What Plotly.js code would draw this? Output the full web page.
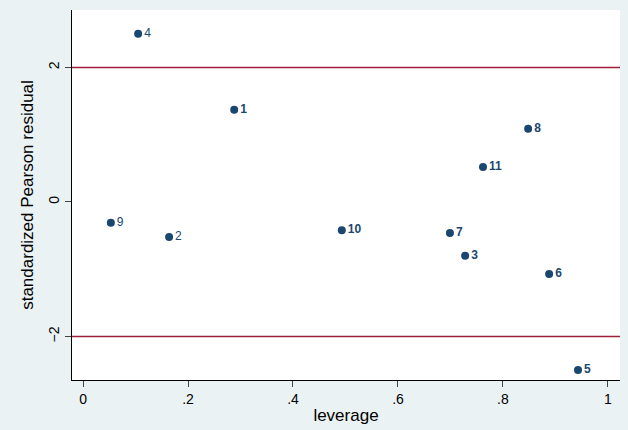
<!DOCTYPE html>
<html>
<head>
<meta charset="utf-8">
<script src="https://cdn.plot.ly/plotly-3.0.1.min.js"></script>
<style>body{margin:0;padding:0;}#chart{width:628px;height:430px;}</style>
</head>
<body>
<div id="chart"></div>
<script>
// observations: leverage vs standardized Pearson residual
var obsLabels = ['1', '2', '3', '4', '5', '6', '7', '8', '9', '10', '11'];
var leverage = [0.288, 0.164, 0.728, 0.105, 0.943, 0.888, 0.699, 0.848, 0.053, 0.493, 0.762];
var residual = [1.37, -0.52, -0.80, 2.50, -2.50, -1.07, -0.46, 1.09, -0.31, -0.42, 0.52];
var boldLabel = [true, false, true, false, true, true, true, true, false, true, true];
var refLines = [2, -2];
var xTicks = [0, 0.2, 0.4, 0.6, 0.8, 1];
var xTickText = ['0', '.2', '.4', '.6', '.8', '1'];
var yTicks = [-2, 0, 2];

var navy = '#1a476f';
var text = obsLabels.map(function(l, i) { return boldLabel[i] ? '<b>' + l + '</b>' : l; });

var trace = {
    x: leverage,
    y: residual,
    mode: 'markers+text',
    type: 'scatter',
    text: text,
    textposition: 'middle right',
    textfont: {family: 'Arial, Liberation Sans', size: 12, color: navy},
    marker: {color: navy, size: 8}
};

var shapes = refLines.map(function(v) {
    return {type: 'line', xref: 'paper', x0: 0, x1: 1, yref: 'y', y0: v, y1: v,
            line: {color: '#a0203c', width: 1.5}};
});

var layout = {
    width: 628, height: 430,
    margin: {l: 72, r: 8, t: 10, b: 50},
    paper_bgcolor: '#eaf2f3',
    plot_bgcolor: 'white',
    showlegend: false,
    shapes: shapes,
    font: {family: 'Arial, Liberation Sans', size: 14, color: 'black'},
    xaxis: {
        range: [-0.021, 1.023],
        tickvals: xTicks, ticktext: xTickText,
        ticks: 'outside', ticklen: 6, showgrid: false, zeroline: false,
        showline: true, linecolor: 'black', mirror: false,
        title: {text: 'leverage', standoff: 3}
    },
    yaxis: {
        range: [-2.647, 2.855],
        tickvals: yTicks, tickangle: -90,
        ticks: 'outside', ticklen: 6, showgrid: false, zeroline: false,
        showline: true, linecolor: 'black',
        title: {text: 'standardized Pearson residual', standoff: 8}
    }
};

Plotly.newPlot('chart', [trace], layout, {displayModeBar: false});
</script>
</body>
</html>
